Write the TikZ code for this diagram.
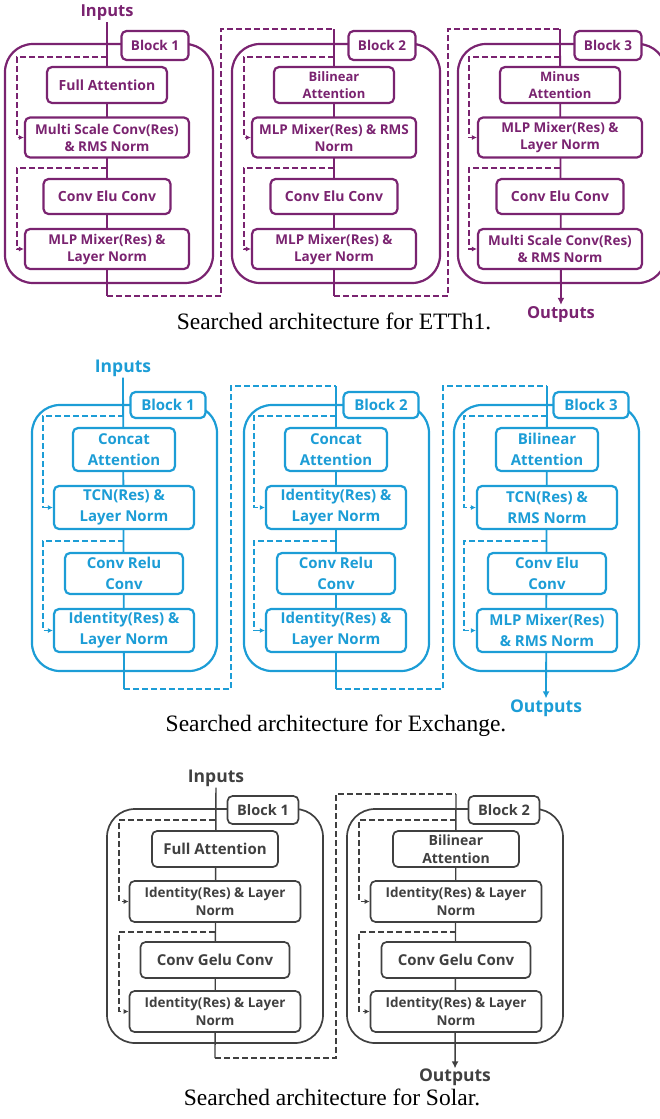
\documentclass[tikz,border=0pt]{standalone}
\usepackage{fontspec}
\setmainfont{Liberation Serif}
\setsansfont{Open Sans}
\usetikzlibrary{arrows.meta,backgrounds}
\definecolor{purp}{RGB}{122,35,112}
\definecolor{skyb}{RGB}{28,157,214}
\definecolor{darkg}{RGB}{64,64,64}

\begin{document}
\begin{tikzpicture}[x=1pt, y=-1pt, >={Latex[length=7pt,width=7pt]},
	box/.style={draw, fill=white, rounded corners=5pt, line width=2.2pt, align=center, inner sep=0pt},
	frame/.style={draw, rounded corners=28pt, line width=2.2pt, inner sep=0pt},
	lab/.style={font=\sffamily\bfseries\fontsize{16.5}{18}\selectfont, inner sep=1pt},
	captext/.style={font=\rmfamily\fontsize{23.5}{26}\selectfont, anchor=base, text=black},
	main/.style={line width=1.8pt},
	res/.style={line width=1.8pt, dash pattern=on 6pt off 3pt, -{Latex[length=5pt,width=5pt]}},
	link/.style={line width=1.8pt, dash pattern=on 6pt off 3pt}]
	\useasboundingbox (0,0) rectangle (660,1119);

	\begin{scope}[color=purp,
		f/.style={font=\sffamily\bfseries\fontsize{#1}{17}\selectfont}, f/.default=13.5,
		tg/.style={box, f=13.5, minimum width=67pt, minimum height=29pt},
		fr/.style={frame, minimum width=208pt, minimum height=239pt},
		sa/.style={box, minimum width=120pt, minimum height=36pt},
		sb/.style={box, minimum width=164pt, minimum height=40pt},
		sc/.style={box, minimum width=127pt, minimum height=35pt}]
		\node[lab] (inP) at (107,13) {Inputs};
		\node[fr] (P1) at (109,163.5) {};
		\node[tg] (P1t) at (155,45.5) {Block 1};
		\node[sa, f=14] (P1a) at (107,85) {Full Attention};
		\node[sb, f] (P1b) at (107,137.5) {Multi Scale Conv(Res)\\\& RMS Norm};
		\node[sc, f=14] (P1c) at (107,196.5) {Conv Elu Conv};
		\node[sb, f] (P1d) at (107,249) {MLP Mixer(Res) \&\\Layer Norm};
		\coordinate (P1r1) at (107,57);
		\coordinate (P1r2) at (107,168);
		\coordinate (P1e) at (107,296);

		\node[fr] (P2) at (336,163.5) {};
		\node[tg] (P2t) at (382,45.5) {Block 2};
		\node[sa, f=13] (P2a) at (334,85) {Bilinear\\Attention};
		\node[sb, f] (P2b) at (334,137.5) {MLP Mixer(Res) \& RMS\\Norm};
		\node[sc, f=14] (P2c) at (334,196.5) {Conv Elu Conv};
		\node[sb, f] (P2d) at (334,249) {MLP Mixer(Res) \&\\Layer Norm};
		\coordinate (P2s) at (334,29);
		\coordinate (P2r1) at (334,57);
		\coordinate (P2r2) at (334,168);
		\coordinate (P2e) at (334,296);

		\node[fr] (P3) at (562,163.5) {};
		\node[tg] (P3t) at (608,45.5) {Block 3};
		\node[sa, f=13] (P3a) at (560,85) {Minus\\Attention};
		\node[sb, f] (P3b) at (560,137.5) {MLP Mixer(Res) \&\\Layer Norm};
		\node[sc, f=14] (P3c) at (560,196.5) {Conv Elu Conv};
		\node[sb, f] (P3d) at (560,249) {Multi Scale Conv(Res)\\\& RMS Norm};
		\coordinate (P3s) at (560,29);
		\coordinate (P3r1) at (560,57);
		\coordinate (P3r2) at (560,168);
		\node[lab] (outP) at (561,314) {Outputs};
		\node[captext] (capP) at (334,329) {Searched architecture for ETTh1.};

		\begin{scope}[on background layer={color=purp}]
			\draw[main] (inP) -- (P1e);
			\draw[link] (P1e) -- ++(114,0) |- (P2s);
			\draw[main] (P2s) -- (P2e);
			\draw[link] (P2e) -- ++(114,0) |- (P3s);
			\draw[main, ->] (P3s) -- (outP);
			\draw[res] (P1r1) -- ++(-90,0) |- (P1b);
			\draw[res] (P1r2) -- ++(-90,0) |- (P1d);
			\draw[res] (P2r1) -- ++(-90,0) |- (P2b);
			\draw[res] (P2r2) -- ++(-90,0) |- (P2d);
			\draw[res] (P3r1) -- ++(-91,0) |- (P3b);
			\draw[res] (P3r2) -- ++(-91,0) |- (P3d);
		\end{scope}
	\end{scope}

	\begin{scope}[color=skyb,
		f/.style={font=\sffamily\bfseries\fontsize{#1}{21}\selectfont}, f/.default=15,
		tg/.style={box, f=15, minimum width=75pt, minimum height=26pt},
		fr/.style={frame, minimum width=185pt, minimum height=266pt},
		sa/.style={box, f, minimum width=102pt, minimum height=43pt},
		sb/.style={box, f, minimum width=140pt, minimum height=43pt},
		sc/.style={box, f, minimum width=118pt, minimum height=41pt}]
		\node[lab, font=\sffamily\bfseries\fontsize{17.5}{19}\selectfont] (inB) at (123,368) {Inputs};
		\node[fr] (B1) at (124.5,538) {};
		\node[tg] (B1t) at (168,405) {Block 1};
		\node[sa] (B1a) at (124,449.5) {Concat\\Attention};
		\node[sb] (B1b) at (124,507.5) {TCN(Res) \&\\Layer Norm};
		\node[sc] (B1c) at (124,573.5) {Conv Relu\\Conv};
		\node[sb] (B1d) at (124,630.5) {Identity(Res) \&\\Layer Norm};
		\coordinate (B1r1) at (124,416);
		\coordinate (B1r2) at (124,541);
		\coordinate (B1e) at (124,689);

		\node[fr] (B2) at (336.5,538) {};
		\node[tg] (B2t) at (381,405) {Block 2};
		\node[sa] (B2a) at (336,449.5) {Concat\\Attention};
		\node[sb] (B2b) at (336,507.5) {Identity(Res) \&\\Layer Norm};
		\node[sc] (B2c) at (336,573.5) {Conv Relu\\Conv};
		\node[sb] (B2d) at (336,630.5) {Identity(Res) \&\\Layer Norm};
		\coordinate (B2s) at (336,386);
		\coordinate (B2r1) at (336,416);
		\coordinate (B2r2) at (336,541);
		\coordinate (B2e) at (336,689);

		\node[fr] (B3) at (546.5,538) {};
		\node[tg] (B3t) at (591,405) {Block 3};
		\node[sa] (B3a) at (547,449.5) {Bilinear\\Attention};
		\node[sb] (B3b) at (547,507.5) {TCN(Res) \&\\RMS Norm};
		\node[sc] (B3c) at (547,573.5) {Conv Elu\\Conv};
		\node[sb] (B3d) at (547,630.5) {MLP Mixer(Res)\\\& RMS Norm};
		\coordinate (B3s) at (547,386);
		\coordinate (B3r1) at (547,416);
		\coordinate (B3r2) at (547,541);
		\node[lab, font=\sffamily\bfseries\fontsize{17.5}{19}\selectfont] (outB) at (546,708) {Outputs};
		\node[captext] (capB) at (336,731) {Searched architecture for Exchange.};

		\begin{scope}[on background layer={color=skyb}]
			\draw[main] (inB) -- (B1e);
			\draw[link] (B1e) -- ++(107,0) |- (B2s);
			\draw[main] (B2s) -- (B2e);
			\draw[link] (B2e) -- ++(107,0) |- (B3s);
			\draw[main, ->] (B3s) -- (outB);
			\draw[res] (B1r1) -- ++(-81,0) |- (B1b);
			\draw[res] (B1r2) -- ++(-81,0) |- (B1d);
			\draw[res] (B2r1) -- ++(-82,0) |- (B2b);
			\draw[res] (B2r2) -- ++(-82,0) |- (B2d);
			\draw[res] (B3r1) -- ++(-83,0) |- (B3b);
			\draw[res] (B3r2) -- ++(-83,0) |- (B3d);
		\end{scope}
	\end{scope}

	\begin{scope}[color=darkg, box/.append style={line width=1.7pt}, frame/.append style={line width=1.7pt},
		main/.append style={line width=1.4pt}, res/.append style={line width=1.4pt}, link/.append style={line width=1.4pt},
		f/.style={font=\sffamily\bfseries\fontsize{#1}{18}\selectfont}, f/.default=13.5,
		tg/.style={box, f=14.5, minimum width=71pt, minimum height=28pt},
		fr/.style={frame, minimum width=216pt, minimum height=234pt},
		sa/.style={box, minimum width=126pt, minimum height=36pt},
		sb/.style={box, f, minimum width=171pt, minimum height=41pt},
		sc/.style={box, f=15, minimum width=149pt, minimum height=36pt}]
		\node[lab, font=\sffamily\bfseries\fontsize{17.5}{19}\selectfont] (inG) at (216,778) {Inputs};
		\node[fr] (G1) at (215,926) {};
		\node[tg] (G1t) at (263,810) {Block 1};
		\node[sa, f=15] (G1a) at (215,849) {Full Attention};
		\node[sb] (G1b) at (215,901.5) {Identity(Res) \& Layer\\Norm};
		\node[sc] (G1c) at (215,960) {Conv Gelu Conv};
		\node[sb] (G1d) at (215,1011.5) {Identity(Res) \& Layer\\Norm};
		\coordinate (G1r1) at (215,820);
		\coordinate (G1r2) at (215,932);
		\coordinate (G1e) at (215,1058);

		\node[fr] (G2) at (455,926) {};
		\node[tg] (G2t) at (504,810) {Block 2};
		\node[sa, f=14] (G2a) at (456,849) {Bilinear\\Attention};
		\node[sb] (G2b) at (456,901.5) {Identity(Res) \& Layer\\Norm};
		\node[sc] (G2c) at (456,960) {Conv Gelu Conv};
		\node[sb] (G2d) at (456,1011.5) {Identity(Res) \& Layer\\Norm};
		\coordinate (G2s) at (456,794);
		\coordinate (G2r1) at (456,820);
		\coordinate (G2r2) at (456,932);
		\node[lab, inner sep=0pt, font=\sffamily\bfseries\fontsize{17.5}{19}\selectfont] (outG) at (455,1077) {Outputs};
		\node[captext] (capG) at (332,1105) {Searched architecture for Solar.};

		\begin{scope}[on background layer={color=darkg}]
			\draw[main] (inG) -- (G1e);
			\draw[link] (G1e) -- ++(121,0) |- (G2s);
			\draw[main, ->] (G2s) -- (outG);
			\draw[res] (G1r1) -- ++(-96,0) |- (G1b);
			\draw[res] (G1r2) -- ++(-96,0) |- (G1d);
			\draw[res] (G2r1) -- ++(-97,0) |- (G2b);
			\draw[res] (G2r2) -- ++(-97,0) |- (G2d);
		\end{scope}
	\end{scope}
\end{tikzpicture}
\end{document}
